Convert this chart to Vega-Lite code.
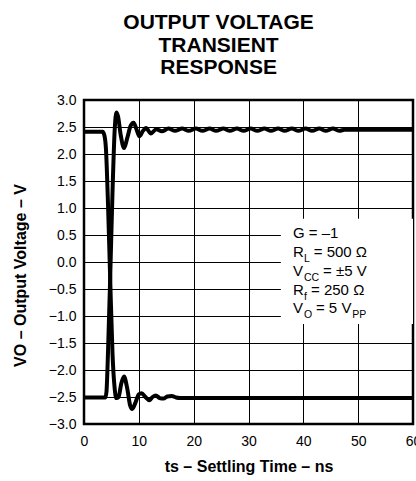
{
  "$schema": "https://vega.github.io/schema/vega-lite/v6.json",
  "autosize": {"type": "none"},
  "padding": {"left": 84, "top": 100, "right": 3, "bottom": 57},
  "width": 329,
  "height": 324,
  "background": "#ffffff",
  "title": {
    "text": ["OUTPUT VOLTAGE", "TRANSIENT", "RESPONSE"],
    "font": "Liberation Sans",
    "fontSize": 21,
    "fontWeight": "bold",
    "lineHeight": 22.5,
    "anchor": "middle",
    "frame": "bounds",
    "offset": 15,
    "dx": 2,
    "color": "#000000"
  },
  "config": {
    "view": {"stroke": "#000000", "strokeWidth": 2.5},
    "font": "Liberation Sans",
    "axis": {
      "grid": true,
      "gridColor": "#000000",
      "gridWidth": 1,
      "gridOpacity": 1,
      "ticks": false,
      "domain": false,
      "labelFont": "Liberation Sans",
      "labelFontSize": 14,
      "labelFontWeight": "normal",
      "labelColor": "#000000",
      "labelFlush": false,
      "labelOverlap": false,
      "titleFont": "Liberation Sans",
      "titleFontSize": 16,
      "titleFontWeight": "bold",
      "titleColor": "#000000"
    }
  },
  "encoding": {
    "x": {"field": "t", "type": "quantitative", "scale": {"domain": [0, 60], "nice": false}, "axis": {"title": "ts – Settling Time – ns", "values": [0, 10, 20, 30, 40, 50, 60], "labelPadding": 10, "titlePadding": 10}},
    "y": {"field": "v", "type": "quantitative", "scale": {"domain": [-3, 3], "nice": false}, "axis": {"title": "VO – Output Voltage – V", "values": [-3, -2.5, -2, -1.5, -1, -0.5, 0, 0.5, 1, 1.5, 2, 2.5, 3], "format": ".1f", "labelPadding": 8, "titlePadding": 20, "titleY": 175}}
  },
  "layer": [
    {
      "data": {"values": [{"t": 35.9, "t2": 60, "v": -1.15, "v2": 0.8}]},
      "mark": {"type": "rect", "fill": "#ffffff", "stroke": null},
      "encoding": {
        "x2": {"field": "t2"},
        "y2": {"field": "v2"}
      }
    },
    {
      "data": {"values": [
        {"series": "rise", "t": 0, "v": -2.51},
        {"series": "rise", "t": 3.9, "v": -2.51},
        {"series": "rise", "t": 4.1, "v": -2.4},
        {"series": "rise", "t": 4.4, "v": -1.6},
        {"series": "rise", "t": 4.8, "v": -0.2},
        {"series": "rise", "t": 5.2, "v": 1.3},
        {"series": "rise", "t": 5.6, "v": 2.45},
        {"series": "rise", "t": 5.9, "v": 2.77},
        {"series": "rise", "t": 6.2, "v": 2.7},
        {"series": "rise", "t": 6.7, "v": 2.35},
        {"series": "rise", "t": 7.3, "v": 2.11},
        {"series": "rise", "t": 7.9, "v": 2.3},
        {"series": "rise", "t": 8.5, "v": 2.52},
        {"series": "rise", "t": 9.05, "v": 2.58},
        {"series": "rise", "t": 9.6, "v": 2.45},
        {"series": "rise", "t": 10.1, "v": 2.33},
        {"series": "rise", "t": 10.7, "v": 2.42},
        {"series": "rise", "t": 11.3, "v": 2.48},
        {"series": "rise", "t": 12.2, "v": 2.38},
        {"series": "rise", "t": 13.2, "v": 2.46},
        {"series": "rise", "t": 14.2, "v": 2.42},
        {"series": "rise", "t": 15.4, "v": 2.47},
        {"series": "rise", "t": 16.6, "v": 2.43},
        {"series": "rise", "t": 17.9, "v": 2.47},
        {"series": "rise", "t": 19.1, "v": 2.43},
        {"series": "rise", "t": 20.4, "v": 2.47},
        {"series": "rise", "t": 21.6, "v": 2.43},
        {"series": "rise", "t": 22.9, "v": 2.47},
        {"series": "rise", "t": 24.1, "v": 2.43},
        {"series": "rise", "t": 25.4, "v": 2.47},
        {"series": "rise", "t": 26.6, "v": 2.43},
        {"series": "rise", "t": 27.9, "v": 2.47},
        {"series": "rise", "t": 29.1, "v": 2.43},
        {"series": "rise", "t": 30.4, "v": 2.47},
        {"series": "rise", "t": 31.6, "v": 2.43},
        {"series": "rise", "t": 32.9, "v": 2.47},
        {"series": "rise", "t": 34.1, "v": 2.43},
        {"series": "rise", "t": 35.4, "v": 2.47},
        {"series": "rise", "t": 36.6, "v": 2.43},
        {"series": "rise", "t": 37.9, "v": 2.47},
        {"series": "rise", "t": 39.1, "v": 2.43},
        {"series": "rise", "t": 40.4, "v": 2.47},
        {"series": "rise", "t": 41.6, "v": 2.43},
        {"series": "rise", "t": 42.9, "v": 2.47},
        {"series": "rise", "t": 44.1, "v": 2.43},
        {"series": "rise", "t": 45.4, "v": 2.47},
        {"series": "rise", "t": 46.6, "v": 2.43},
        {"series": "rise", "t": 47.5, "v": 2.45},
        {"series": "rise", "t": 60, "v": 2.45},
        {"series": "fall", "t": 0, "v": 2.41},
        {"series": "fall", "t": 3.4, "v": 2.41},
        {"series": "fall", "t": 3.7, "v": 2.35},
        {"series": "fall", "t": 4.0, "v": 2.1},
        {"series": "fall", "t": 4.4, "v": 1.0},
        {"series": "fall", "t": 4.8, "v": -0.4},
        {"series": "fall", "t": 5.2, "v": -1.7},
        {"series": "fall", "t": 5.6, "v": -2.35},
        {"series": "fall", "t": 5.9, "v": -2.52},
        {"series": "fall", "t": 6.3, "v": -2.5},
        {"series": "fall", "t": 6.8, "v": -2.25},
        {"series": "fall", "t": 7.3, "v": -2.12},
        {"series": "fall", "t": 7.9, "v": -2.35},
        {"series": "fall", "t": 8.4, "v": -2.65},
        {"series": "fall", "t": 8.8, "v": -2.72},
        {"series": "fall", "t": 9.4, "v": -2.6},
        {"series": "fall", "t": 10.0, "v": -2.45},
        {"series": "fall", "t": 10.5, "v": -2.43},
        {"series": "fall", "t": 11.2, "v": -2.5},
        {"series": "fall", "t": 11.9, "v": -2.56},
        {"series": "fall", "t": 12.5, "v": -2.5},
        {"series": "fall", "t": 13.1, "v": -2.47},
        {"series": "fall", "t": 13.8, "v": -2.52},
        {"series": "fall", "t": 14.5, "v": -2.53},
        {"series": "fall", "t": 15.2, "v": -2.49},
        {"series": "fall", "t": 16.0, "v": -2.48},
        {"series": "fall", "t": 16.8, "v": -2.51},
        {"series": "fall", "t": 17.5, "v": -2.52},
        {"series": "fall", "t": 60, "v": -2.52}
      ]},
      "mark": {"type": "line", "color": "#000000", "strokeWidth": 4, "interpolate": "monotone", "strokeJoin": "round", "strokeCap": "butt"},
      "encoding": {
        "detail": {"field": "series", "type": "nominal"}
      }
    },
    {
      "data": {"values": [
        {"t": 38.1, "v": 0.439, "label": "G = –1"},
        {"t": 38.1, "v": 0.098, "label": "R"},
        {"t": 41.9, "v": 0.098, "label": "= 500 Ω"},
        {"t": 38.1, "v": -0.259, "label": "V"},
        {"t": 43.6, "v": -0.259, "label": "= ±5 V"},
        {"t": 38.1, "v": -0.611, "label": "R"},
        {"t": 41.4, "v": -0.611, "label": "= 250 Ω"},
        {"t": 38.1, "v": -0.95, "label": "V"},
        {"t": 42.3, "v": -0.95, "label": "= 5 V"}
      ]},
      "mark": {"type": "text", "align": "left", "baseline": "alphabetic", "fontSize": 15, "font": "Liberation Sans", "color": "#000000"},
      "encoding": {
        "text": {"field": "label"}
      }
    },
    {
      "data": {"values": [
        {"t": 40.1, "v": 0.098, "label": "L"},
        {"t": 40.1, "v": -0.259, "label": "CC"},
        {"t": 40.1, "v": -0.611, "label": "f"},
        {"t": 40.1, "v": -0.95, "label": "O"},
        {"t": 48.9, "v": -0.95, "label": "PP"}
      ]},
      "mark": {"type": "text", "align": "left", "baseline": "alphabetic", "fontSize": 10.5, "dy": 5, "font": "Liberation Sans", "color": "#000000"},
      "encoding": {
        "text": {"field": "label"}
      }
    }
  ]
}
